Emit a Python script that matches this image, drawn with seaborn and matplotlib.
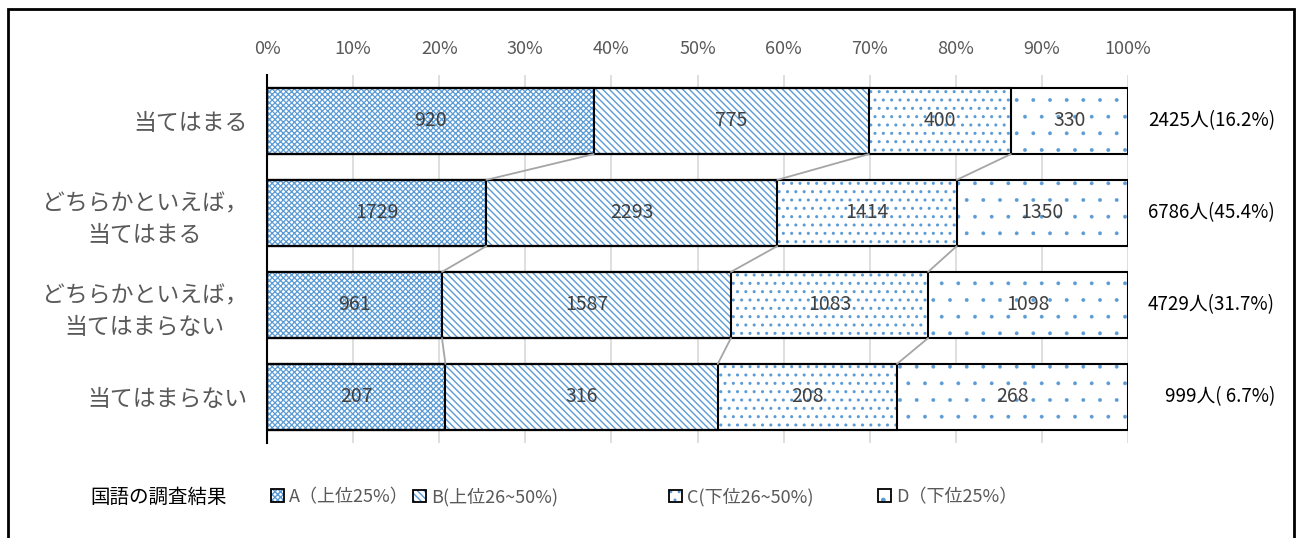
import numpy as np
import pandas as pd
import seaborn as sns
import matplotlib.pyplot as plt
from matplotlib.patches import Patch, Rectangle
from matplotlib.transforms import blended_transform_factory

# Data
categories = ['当てはまる', 'どちらかといえば，\n当てはまる',
              'どちらかといえば，\n当てはまらない', '当てはまらない']
series_names = ['A（上位25%）', 'B(上位26~50%)', 'C(下位26~50%)', 'D（下位25%）']
a_top25 = [920, 1729, 961, 207]
b_top26_50 = [775, 2293, 1587, 316]
c_low26_50 = [400, 1414, 1083, 208]
d_low25 = [330, 1350, 1098, 268]
pct_ticks = [0, 10, 20, 30, 40, 50, 60, 70, 80, 90, 100]
legend_title = '国語の調査結果'

sns.set_style('white')
plt.rcParams['font.family'] = ['Noto Sans CJK JP', 'DejaVu Sans']
plt.rcParams['hatch.linewidth'] = 1.0

cols = ['A', 'B', 'C', 'D']
counts = pd.DataFrame({'A': a_top25, 'B': b_top26_50, 'C': c_low26_50, 'D': d_low25},
                      index=categories)
totals = counts.sum(axis=1)
share = counts.div(totals, axis=0) * 100
cum = share.cumsum(axis=1)
cum_df = cum.reset_index().rename(columns={'index': 'cat'})

blue = '#5B9BD5'
hatches = ['xxxxxx', '\\\\\\\\\\', '..', '.']
hatch_lw = [0.9, 1.0, 1.0, 0.3]
bar_w = 0.72


def style_hatch(p, h, lw):
    p.set_facecolor('white')
    p.set_edgecolor(blue)
    p.set_linewidth(0)
    p.set_hatch(h)
    if hasattr(p, 'set_hatch_linewidth'):
        p.set_hatch_linewidth(lw)


fig = plt.figure(figsize=(13, 5.38), dpi=100)
ax = fig.add_axes([0.2054, 0.1766, 0.6623, 0.684])

# stacked bars: draw cumulative layers from the right end down
for col, h, lw in zip(reversed(cols), reversed(hatches), reversed(hatch_lw)):
    n0 = len(ax.patches)
    with plt.rc_context({'hatch.linewidth': lw}):
        sns.barplot(data=cum_df, x=col, y='cat', orient='h', color='white',
                    saturation=1, width=bar_w, ax=ax)
        for p in ax.patches[n0:]:
            style_hatch(p, h, lw)

# black outlines for each segment
for col in reversed(cols):
    n0 = len(ax.patches)
    sns.barplot(data=cum_df, x=col, y='cat', orient='h', color='white',
                saturation=1, width=bar_w, ax=ax)
    for p in ax.patches[n0:]:
        p.set_facecolor('none')
        p.set_edgecolor('black')
        p.set_linewidth(1.5)

# series lines between bars
for j in range(3):
    for i in range(len(categories) - 1):
        ax.plot([cum.iloc[i, j], cum.iloc[i + 1, j]],
                [i + bar_w / 2, i + 1 - bar_w / 2],
                color='#A5A5A5', lw=1.3, zorder=1)

# value labels
for i in range(len(categories)):
    for j, col in enumerate(cols):
        x = cum.iloc[i, j] - share.iloc[i, j] / 2
        ax.text(x, i, str(counts.iloc[i, j]), ha='center', va='center',
                fontsize=14, color='#404040', zorder=5)

# totals on the right
trans = blended_transform_factory(ax.transAxes, ax.transData)
overall = totals / totals.sum() * 100
for i in range(len(categories)):
    ax.text(1.1707, i, f'{totals.iloc[i]}人({overall.iloc[i]:4.1f}%)', transform=trans,
            ha='right', va='center', fontsize=13.5, color='black')

ax.set_xlim(0, 100)
ax.set_ylim(3.5, -0.5)
ax.set_xlabel('')
ax.set_ylabel('')
ax.xaxis.tick_top()
ax.set_xticks(pct_ticks)
ax.set_xticklabels([f'{t}%' for t in pct_ticks], fontsize=13, color='#595959')
ax.set_yticks(range(len(categories)))
ax.set_yticklabels(categories, fontsize=16.5, color='#595959')
for lbl in ax.get_yticklabels():
    lbl.set_multialignment('center')
    lbl.set_linespacing(1.45)
ax.tick_params(axis='x', length=0, pad=12)
ax.tick_params(axis='y', length=0, pad=14)
ax.set_axisbelow(True)
ax.xaxis.grid(True, color='#D9D9D9', lw=1.2)
ax.yaxis.grid(False)
for s in ['top', 'right', 'bottom']:
    ax.spines[s].set_visible(False)
ax.spines['left'].set_color('black')
ax.spines['left'].set_linewidth(1.5)

# legend: one entry per box, placed like the original
fig.text(90 / 1300, 1 - 497 / 538, legend_title, ha='left', va='center',
         fontsize=14, color='black')
legend_x = [264, 406, 662, 871]
for name, h, lw, lx in zip(series_names, hatches, hatch_lw, legend_x):
    with plt.rc_context({'hatch.linewidth': lw}):
        p1 = Patch(facecolor='white', edgecolor=blue, hatch=h, lw=0)
    p2 = Patch(facecolor='none', edgecolor='black', lw=1.3)
    leg = fig.legend(handles=[(p1, p2)], labels=[name], loc='center left',
                     bbox_to_anchor=(lx / 1300, 1 - 497 / 538), frameon=False,
                     handlelength=0.7, handleheight=0.7, handletextpad=0.3,
                     borderaxespad=0, fontsize=13, labelcolor='#595959')

# outer frame
fig.add_artist(Rectangle((8 / 1300, -0.05), (1294 - 8) / 1300, 1.05 - 9 / 538,
                         transform=fig.transFigure, fill=False, lw=2, color='black'))

fig.savefig('out.png', dpi=100)
